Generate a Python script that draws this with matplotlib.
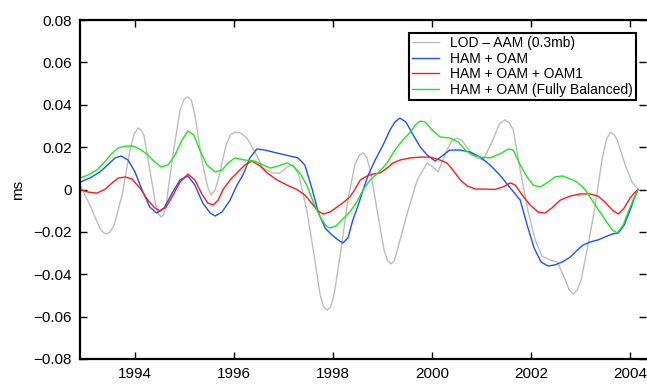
import matplotlib
matplotlib.use("Agg")
import matplotlib.pyplot as plt
from matplotlib.ticker import FuncFormatter

# LOD - AAM (0.3mb)
lod_t = [1992.89, 1993.09, 1993.29, 1993.36, 1993.43, 1993.50, 1993.58, 1993.74, 1993.90, 1993.98,
         1994.06, 1994.12, 1994.18,
         1994.30, 1994.42, 1994.48, 1994.53, 1994.58, 1994.63, 1994.75, 1994.91, 1994.99, 1995.07,
         1995.14, 1995.21, 1995.35,
         1995.47, 1995.54, 1995.61, 1995.68, 1995.84, 1995.93, 1996.02, 1996.14, 1996.26, 1996.42,
         1996.59, 1996.77, 1996.93,
         1997.07, 1997.19, 1997.31, 1997.47, 1997.60, 1997.74, 1997.81, 1997.88, 1997.95, 1998.02,
         1998.16, 1998.30, 1998.44, 1998.53, 1998.61, 1998.68, 1998.75, 1998.89, 1999.03, 1999.10,
         1999.17, 1999.24, 1999.31, 1999.49,
         1999.70, 1999.90, 2000.02, 2000.12, 2000.30, 2000.40, 2000.51, 2000.61, 2000.71, 2000.87,
         2001.03, 2001.23, 2001.36, 2001.47, 2001.56, 2001.64, 2001.78, 2001.92, 2002.08, 2002.22,
         2002.38, 2002.53, 2002.69, 2002.77, 2002.85, 2002.93, 2003.01, 2003.15, 2003.29, 2003.43,
         2003.52, 2003.60, 2003.67, 2003.74, 2003.90, 2004.04, 2004.16]
lod_v = [0.0021, -0.0073, -0.0182, -0.0203, -0.0210, -0.0200, -0.0168, -0.0026, 0.0186, 0.0260,
         0.0290, 0.0282, 0.0257,
         0.0092, -0.0073, -0.0118, -0.0130, -0.0118, -0.0073, 0.0139, 0.0375, 0.0425, 0.0437,
         0.0420, 0.0352, 0.0139,
         0.0010, -0.0026, -0.0005, 0.0045, 0.0210, 0.0258, 0.0271, 0.0266, 0.0243, 0.0177,
         0.0101, 0.0078, 0.0078,
         0.0106, 0.0116, 0.0068, -0.0097, -0.0285, -0.0498, -0.0555, -0.0569, -0.0555, -0.0498,
         -0.0285, -0.0050, 0.0116, 0.0162, 0.0172, 0.0152, 0.0092, -0.0097, -0.0285, -0.0335,
         -0.0351, -0.0335, -0.0276, -0.0120,
         0.0045, 0.0125, 0.0106, 0.0083, 0.0186, 0.0230, 0.0243, 0.0230, 0.0196, 0.0153,
         0.0139, 0.0234, 0.0310, 0.0328, 0.0315, 0.0281, 0.0092, -0.0083, -0.0238, -0.0314,
         -0.0333, -0.0342, -0.0427, -0.0475, -0.0493, -0.0475, -0.0427, -0.0262, -0.0083, 0.0139,
         0.0235, 0.0271, 0.0260, 0.0234, 0.0116, 0.0035, 0.0002]

# HAM + OAM
ham_t = [1992.89, 1993.09, 1993.29, 1993.45, 1993.60, 1993.72, 1993.86, 1994.00, 1994.14,
         1994.30, 1994.44, 1994.59, 1994.75, 1994.91, 1995.07, 1995.21, 1995.37, 1995.52,
         1995.62, 1995.76, 1995.92, 1996.06, 1996.18, 1996.32, 1996.46, 1996.63, 1996.87,
         1997.13, 1997.29, 1997.43, 1997.58, 1997.70, 1997.84, 1997.98, 1998.10, 1998.20,
         1998.30, 1998.40, 1998.51, 1998.61, 1998.71, 1998.85, 1999.01, 1999.15, 1999.25,
         1999.35, 1999.47, 1999.62, 1999.76, 1999.90, 2000.06, 2000.20, 2000.36, 2000.57,
         2000.77, 2000.97, 2001.17, 2001.37, 2001.58, 2001.78, 2001.92, 2002.06, 2002.20,
         2002.34, 2002.48, 2002.63, 2002.79, 2002.93, 2003.05, 2003.19, 2003.35, 2003.49,
         2003.64, 2003.76, 2003.88, 2004.00, 2004.10, 2004.16]
ham_v = [0.0035, 0.0054, 0.0083, 0.0116, 0.0149, 0.0158, 0.0139, 0.0083, 0.0000,
         -0.0083, -0.0111, -0.0087, -0.0017, 0.0045, 0.0064, 0.0021, -0.0064, -0.0111,
         -0.0125, -0.0106, -0.0050, 0.0021, 0.0068, 0.0149, 0.0191, 0.0186, 0.0172,
         0.0158, 0.0149, 0.0116, 0.0000, -0.0106, -0.0182, -0.0215, -0.0238, -0.0252,
         -0.0229, -0.0144, -0.0073, 0.0000, 0.0068, 0.0139, 0.0210, 0.0281, 0.0319,
         0.0337, 0.0319, 0.0257, 0.0201, 0.0163, 0.0134, 0.0158, 0.0186, 0.0186,
         0.0177, 0.0153, 0.0116, 0.0068, 0.0007, -0.0050, -0.0168, -0.0276, -0.0342,
         -0.0361, -0.0356, -0.0342, -0.0319, -0.0286, -0.0262, -0.0248, -0.0238, -0.0224,
         -0.0210, -0.0205, -0.0168, -0.0097, -0.0031, 0.0000]

# HAM + OAM + OAM1
oam1_t = [1992.89, 1993.05, 1993.23, 1993.39, 1993.54, 1993.66, 1993.80, 1993.94, 1994.10,
          1994.26, 1994.40, 1994.51, 1994.63, 1994.77, 1994.91, 1995.07, 1995.21, 1995.35,
          1995.47, 1995.58, 1995.68, 1995.78, 1995.92, 1996.06, 1996.22, 1996.36, 1996.53,
          1996.67, 1996.87, 1997.07, 1997.27, 1997.43, 1997.58, 1997.70, 1997.80, 1997.94,
          1998.08, 1998.22, 1998.34, 1998.44, 1998.55, 1998.69, 1998.81, 1998.95, 1999.09,
          1999.21, 1999.35, 1999.56, 1999.76, 1999.96, 2000.16, 2000.30, 2000.42, 2000.57,
          2000.71, 2000.87, 2001.07, 2001.27, 2001.43, 2001.58, 2001.68, 2001.82, 2001.98,
          2002.14, 2002.28, 2002.42, 2002.59, 2002.79, 2002.99, 2003.19, 2003.35, 2003.49,
          2003.64, 2003.76, 2003.88, 2004.00, 2004.08, 2004.16]
oam1_v = [0.0000, -0.0012, -0.0017, 0.0000, 0.0031, 0.0054, 0.0059, 0.0050, 0.0007,
          -0.0050, -0.0087, -0.0101, -0.0083, -0.0026, 0.0035, 0.0073, 0.0045, -0.0021,
          -0.0064, -0.0073, -0.0050, 0.0000, 0.0045, 0.0078, 0.0116, 0.0134, 0.0111,
          0.0078, 0.0045, 0.0021, 0.0000, -0.0026, -0.0068, -0.0101, -0.0116, -0.0106,
          -0.0083, -0.0059, -0.0035, 0.0000, 0.0045, 0.0064, 0.0073, 0.0078, 0.0101,
          0.0125, 0.0139, 0.0149, 0.0153, 0.0153, 0.0139, 0.0125, 0.0092, 0.0045,
          0.0017, 0.0002, 0.0002, 0.0000, 0.0012, 0.0031, 0.0021, -0.0026, -0.0073,
          -0.0106, -0.0111, -0.0087, -0.0050, -0.0031, -0.0021, -0.0021, -0.0031, -0.0059,
          -0.0097, -0.0116, -0.0087, -0.0040, -0.0017, 0.0000]

# HAM + OAM (Fully Balanced)
bal_t = [1992.89, 1993.05, 1993.23, 1993.39, 1993.54, 1993.66, 1993.80, 1993.96, 1994.10,
         1994.26, 1994.40, 1994.53, 1994.67, 1994.81, 1994.95, 1995.07, 1995.19, 1995.31,
         1995.45, 1995.62, 1995.76, 1995.88, 1996.02, 1996.22, 1996.42, 1996.59, 1996.73,
         1996.89, 1997.07, 1997.19, 1997.33, 1997.47, 1997.60, 1997.74, 1997.86, 1997.94,
         1998.06, 1998.20, 1998.34, 1998.48, 1998.61, 1998.75, 1998.91, 1999.09, 1999.25,
         1999.41, 1999.56, 1999.68, 1999.76, 1999.86, 2000.00, 2000.16, 2000.36, 2000.53,
         2000.67, 2000.81, 2000.97, 2001.17, 2001.37, 2001.54, 2001.64, 2001.78, 2001.92,
         2002.04, 2002.18, 2002.32, 2002.48, 2002.63, 2002.79, 2002.93, 2003.09, 2003.23,
         2003.39, 2003.54, 2003.64, 2003.74, 2003.86, 2003.96, 2004.06, 2004.16]
bal_v = [0.0054, 0.0068, 0.0092, 0.0130, 0.0172, 0.0196, 0.0205, 0.0205, 0.0191,
         0.0163, 0.0130, 0.0106, 0.0116, 0.0163, 0.0234, 0.0276, 0.0257, 0.0186,
         0.0116, 0.0083, 0.0092, 0.0125, 0.0149, 0.0139, 0.0134, 0.0116, 0.0101,
         0.0111, 0.0125, 0.0111, 0.0078, 0.0021, -0.0059, -0.0130, -0.0172, -0.0182,
         -0.0172, -0.0139, -0.0106, -0.0059, 0.0000, 0.0045, 0.0078, 0.0125, 0.0186,
         0.0234, 0.0271, 0.0309, 0.0323, 0.0319, 0.0281, 0.0248, 0.0243, 0.0224,
         0.0186, 0.0163, 0.0153, 0.0149, 0.0168, 0.0191, 0.0186, 0.0116, 0.0059,
         0.0021, 0.0012, 0.0031, 0.0059, 0.0064, 0.0050, 0.0035, 0.0000, -0.0050,
         -0.0106, -0.0158, -0.0191, -0.0205, -0.0168, -0.0106, -0.0050, 0.0000]

labels = ["LOD \u2013 AAM (0.3mb)", "HAM + OAM", "HAM + OAM + OAM1",
          "HAM + OAM (Fully Balanced)"]
colors = ["#bdbdbd", "#1f4fff", "#ff1a1a", "#1ee61e"]

x_ticks = [1994, 1996, 1998, 2000, 2002, 2004]
y_ticks = [-0.08, -0.06, -0.04, -0.02, 0, 0.02, 0.04, 0.06, 0.08]

plt.rcParams["font.family"] = ["Liberation Sans", "DejaVu Sans"]

fig = plt.figure(figsize=(6.47, 3.86), dpi=100)
ax = fig.add_axes([80 / 647, 1 - 359 / 386, 565.5 / 647, 339 / 386])

series = [(lod_t, lod_v), (ham_t, ham_v), (oam1_t, oam1_v), (bal_t, bal_v)]
for (t, v), c, lab in zip(series, colors, labels):
    ax.plot(t, v, color=c, lw=1.0, label=lab)

ax.set_xlim(1992.89, 2004.31)
ax.set_ylim(-0.08, 0.08)
ax.set_xticks(x_ticks)
ax.set_yticks(y_ticks)


def fmt(v, pos):
    if abs(v) < 1e-12:
        return "0"
    return ("%.2f" % v).replace("-", "\u2212")


ax.yaxis.set_major_formatter(FuncFormatter(fmt))
ax.tick_params(direction="in", length=5, width=1.0, top=True, right=True,
               labelsize=11, pad=6)
for side in ["left", "bottom", "top"]:
    ax.spines[side].set_linewidth(1.6)
ax.spines["right"].set_visible(False)

ax.set_ylabel("ms", fontsize=11, labelpad=6)

leg = ax.legend(loc="upper right", bbox_to_anchor=(0.983, 0.962), fontsize=10,
                frameon=True, fancybox=False, edgecolor="black", framealpha=1,
                handlelength=1.9, handletextpad=0.8, borderpad=0.25,
                labelspacing=0.1, borderaxespad=0)
leg.get_frame().set_linewidth(1.5)

fig.savefig("out.png", dpi=100)
